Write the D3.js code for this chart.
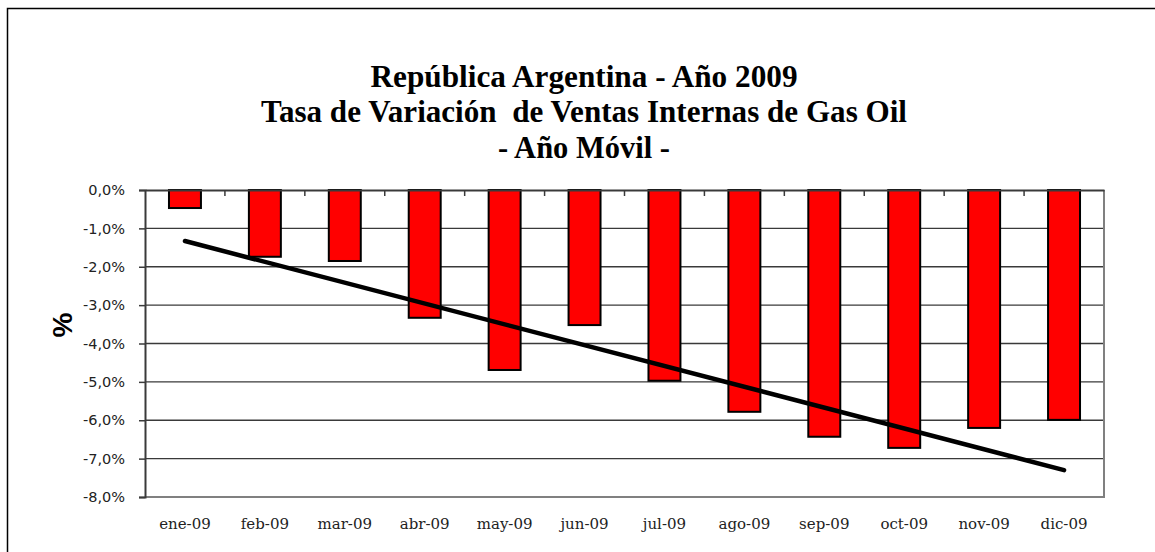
<!DOCTYPE html>
<html>
<head>
<meta charset="utf-8">
<script src="https://cdn.jsdelivr.net/npm/d3@7"></script>
<style>
  html, body { margin: 0; padding: 0; background: #fff; }
  svg { display: block; }
</style>
</head>
<body>
<svg id="chart" width="1155" height="552"></svg>
<script>
// ---- data ----
const categories = ["ene-09","feb-09","mar-09","abr-09","may-09","jun-09","jul-09","ago-09","sep-09","oct-09","nov-09","dic-09"];
const values = [-0.47, -1.74, -1.85, -3.33, -4.69, -3.52, -4.97, -5.78, -6.43, -6.72, -6.20, -5.99];
const trendCategories = ["ene-09", "dic-09"];
const trendValues = [-1.33, -7.30];
const yTicks = [0, -1, -2, -3, -4, -5, -6, -7, -8];
const titleLines = ["República Argentina - Año 2009", "Tasa de Variación  de Ventas Internas de Gas Oil", "- Año Móvil -"];
const yAxisTitle = "%";

// ---- layout ----
const W = 1155, H = 552;
const plot = { left: 145, right: 1104, top: 190, bottom: 497 };

const svg = d3.select("#chart");
svg.append("rect").attr("width", W).attr("height", H).attr("fill", "#fff");

// outer chart border (top and left visible)
svg.append("path")
  .attr("d", `M7.5,${H} L7.5,8.5 L${W},8.5`)
  .attr("fill", "none").attr("stroke", "#000").attr("stroke-width", 1.5);

const x = d3.scaleBand().domain(categories).range([plot.left, plot.right]).paddingInner(0.6).paddingOuter(0.3);
const xStep = d3.scaleBand().domain(categories).range([plot.left, plot.right]).padding(0);
const y = d3.scaleLinear().domain([-8, 0]).range([plot.bottom, plot.top]);

// title
const title = svg.append("g").attr("font-family", "'Liberation Serif', 'Times New Roman', serif")
  .attr("font-weight", "bold").attr("font-size", 32).attr("fill", "#000");
const titleWidths = [427, 646, 172];
const titleBaselines = [87, 122, 158];
titleLines.forEach((t, i) => {
  title.append("text")
    .attr("x", 584).attr("y", titleBaselines[i])
    .attr("text-anchor", "middle")
    .attr("textLength", titleWidths[i])
    .attr("lengthAdjust", "spacingAndGlyphs")
    .style("white-space", "pre")
    .text(t);
});

// gridlines
svg.append("g").selectAll("line").data(yTicks.filter(d => d !== 0 && d !== -8)).join("line")
  .attr("x1", plot.left).attr("x2", plot.right)
  .attr("y1", d => y(d)).attr("y2", d => y(d))
  .attr("stroke", "#3a3a3a").attr("stroke-width", 1.3);

// plot border right & bottom (gray)
svg.append("path")
  .attr("d", `M${plot.left},${plot.bottom} L${plot.right},${plot.bottom} L${plot.right},${plot.top}`)
  .attr("fill", "none").attr("stroke", "#808080").attr("stroke-width", 2);

// bars
svg.append("g").selectAll("rect").data(values).join("rect")
  .attr("x", (d, i) => x(categories[i]))
  .attr("width", x.bandwidth())
  .attr("y", d => y(Math.max(0, d)))
  .attr("height", d => Math.abs(y(d) - y(0)))
  .attr("fill", "#ff0000").attr("stroke", "#000").attr("stroke-width", 2);

// category axis at 0 (ticks pointing down into plot), no labels
const xAxis = d3.axisBottom(xStep).tickSize(0).tickFormat("");
const xg = svg.append("g").attr("transform", `translate(0,${y(0)})`).call(xAxis);
xg.select(".domain").attr("stroke", "#3a3a3a").attr("stroke-width", 2);
// boundary tick marks
svg.append("g").selectAll("line").data(categories.slice(1)).join("line")
  .attr("x1", d => xStep(d)).attr("x2", d => xStep(d))
  .attr("y1", y(0)).attr("y2", y(0) + 6)
  .attr("stroke", "#3a3a3a").attr("stroke-width", 1.5);

// y axis
const yAxis = d3.axisLeft(y).tickValues(yTicks).tickSize(6).tickPadding(14)
  .tickFormat(d => d3.format(".1f")(d).replace(".", ",").replace("−", "-") + "%");
const yg = svg.append("g").attr("transform", `translate(${plot.left},0)`).call(yAxis);
yg.select(".domain").attr("stroke", "#3a3a3a").attr("stroke-width", 2);
yg.selectAll(".tick line").attr("stroke", "#3a3a3a").attr("stroke-width", 1.5);
yg.selectAll(".tick text")
  .attr("font-family", "'DejaVu Sans', Verdana, sans-serif")
  .attr("font-size", 14.5).attr("fill", "#222");

// x labels at bottom
svg.append("g").selectAll("text").data(categories).join("text")
  .attr("x", d => x(d) + x.bandwidth() / 2)
  .attr("y", 529)
  .attr("text-anchor", "middle")
  .attr("font-family", "'DejaVu Serif', 'Liberation Serif', serif")
  .attr("font-size", 15).attr("fill", "#222")
  .text(d => d);

// trend line
const line = d3.line().x(d => x(d.c) + x.bandwidth() / 2).y(d => y(d.v));
svg.append("path")
  .datum(trendCategories.map((c, i) => ({ c, v: trendValues[i] })))
  .attr("d", line)
  .attr("fill", "none").attr("stroke", "#000").attr("stroke-width", 4.5).attr("stroke-linecap", "round");

// y axis title
svg.append("text")
  .attr("transform", `translate(72,325) rotate(-90)`)
  .attr("text-anchor", "middle")
  .attr("font-family", "'Liberation Sans', Arial, sans-serif")
  .attr("font-weight", "bold").attr("font-size", 28)
  .text(yAxisTitle);
</script>
</body>
</html>
